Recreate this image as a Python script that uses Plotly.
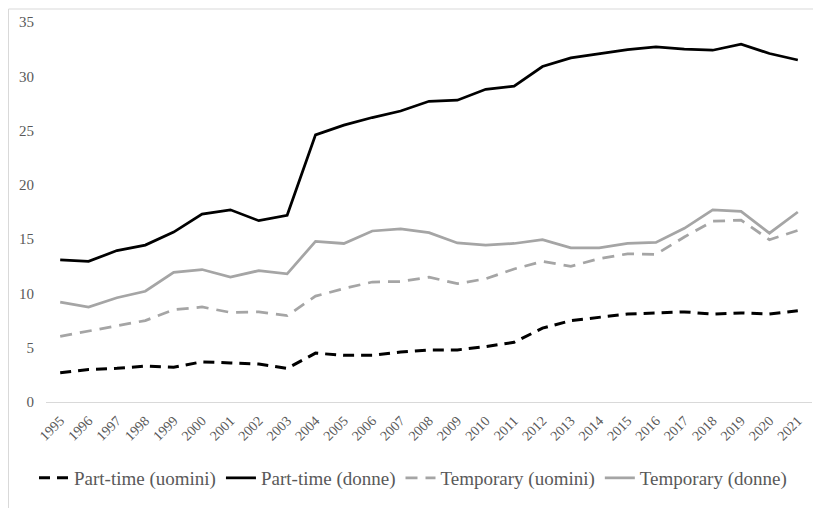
import plotly.graph_objects as go

years = [str(y) for y in range(1995, 2022)]

part_time_uomini = [2.7, 3.0, 3.1, 3.3, 3.2, 3.7, 3.6, 3.5, 3.1, 4.5, 4.3, 4.3, 4.6, 4.8, 4.8, 5.1, 5.5, 6.8, 7.5, 7.8, 8.1, 8.2, 8.3, 8.1, 8.2, 8.1, 8.4]
part_time_donne = [13.1, 12.95, 13.95, 14.45, 15.65, 17.3, 17.7, 16.7, 17.2, 24.6, 25.5, 26.2, 26.8, 27.7, 27.8, 28.8, 29.1, 30.9, 31.7, 32.1, 32.45, 32.7, 32.5, 32.4, 32.95, 32.1, 31.5]
temporary_uomini = [6.05, 6.55, 7.0, 7.5, 8.5, 8.75, 8.25, 8.3, 7.95, 9.75, 10.45, 11.05, 11.1, 11.5, 10.9, 11.35, 12.25, 12.95, 12.5, 13.2, 13.65, 13.6, 15.2, 16.65, 16.75, 14.95, 15.8]
temporary_donne = [9.2, 8.75, 9.6, 10.2, 11.95, 12.2, 11.5, 12.1, 11.8, 14.8, 14.6, 15.75, 15.95, 15.6, 14.65, 14.45, 14.6, 14.95, 14.2, 14.2, 14.6, 14.7, 16.0, 17.7, 17.55, 15.55, 17.5]

series = [
    ("Part-time (uomini)", part_time_uomini, "#000000", "11px,7px", 3),
    ("Part-time (donne)", part_time_donne, "#000000", "solid", 2.75),
    ("Temporary (uomini)", temporary_uomini, "#a5a5a5", "12px,8px", 2.75),
    ("Temporary (donne)", temporary_donne, "#a5a5a5", "solid", 2.75),
]

fig = go.Figure()
for name, vals, color, dash, w in series:
    fig.add_trace(go.Scatter(
        x=years, y=vals, name=name, mode="lines",
        line=dict(color=color, dash=dash, width=w),
    ))

font_family = "Liberation Serif, Times New Roman, serif"

# page body has an 8px margin, so the figure is 8px smaller and shifted
W, H = 813, 500
ML, MR, MT, MB = 38, 9, 13.5, 106.3
PH = H - MT - MB
PW = W - ML - MR

fig.update_layout(
    width=W, height=H,
    margin=dict(l=ML, r=MR, t=MT, b=MB, autoexpand=False),
    paper_bgcolor="white", plot_bgcolor="white",
    font=dict(family=font_family, color="#595959", size=15),
    showlegend=True,
    legend=dict(
        orientation="h", x=(405 - ML) / PW, xanchor="center",
        yref="container", y=1 - 470 / 500, yanchor="middle",
        font=dict(family=font_family, size=19, color="#595959"),
        itemwidth=30, bgcolor="rgba(0,0,0,0)",
    ),
    xaxis=dict(
        type="category", range=[-0.5, 26.5], automargin=False,
        showgrid=False, zeroline=False,
        showline=True, linecolor="#d9d9d9", linewidth=1,
        ticks="outside", ticklen=4, tickcolor="rgba(0,0,0,0)",
        tickangle=-45, tickfont=dict(family=font_family, size=14, color="#595959"),
    ),
    yaxis=dict(
        range=[0, 35], dtick=5, tick0=0, automargin=False,
        showgrid=False, zeroline=False, showline=False,
        ticks="outside", ticklen=8, tickcolor="rgba(0,0,0,0)",
        tickfont=dict(family=font_family, size=15, color="#595959"),
    ),
    shapes=[
        dict(type="line", xref="paper", yref="paper",
             x0=(0.5 - ML) / PW, x1=(0.5 - ML) / PW, y0=(H - MB - 0.5) / PH, y1=-MB / PH,
             line=dict(color="#d9d9d9", width=1)),
        dict(type="line", xref="paper", yref="paper",
             x0=(0.5 - ML) / PW, x1=1 + MR / PW, y0=(H - MB - 0.5) / PH, y1=(H - MB - 0.5) / PH,
             line=dict(color="#d9d9d9", width=1)),
    ],
)

fig.write_html("out.html")
